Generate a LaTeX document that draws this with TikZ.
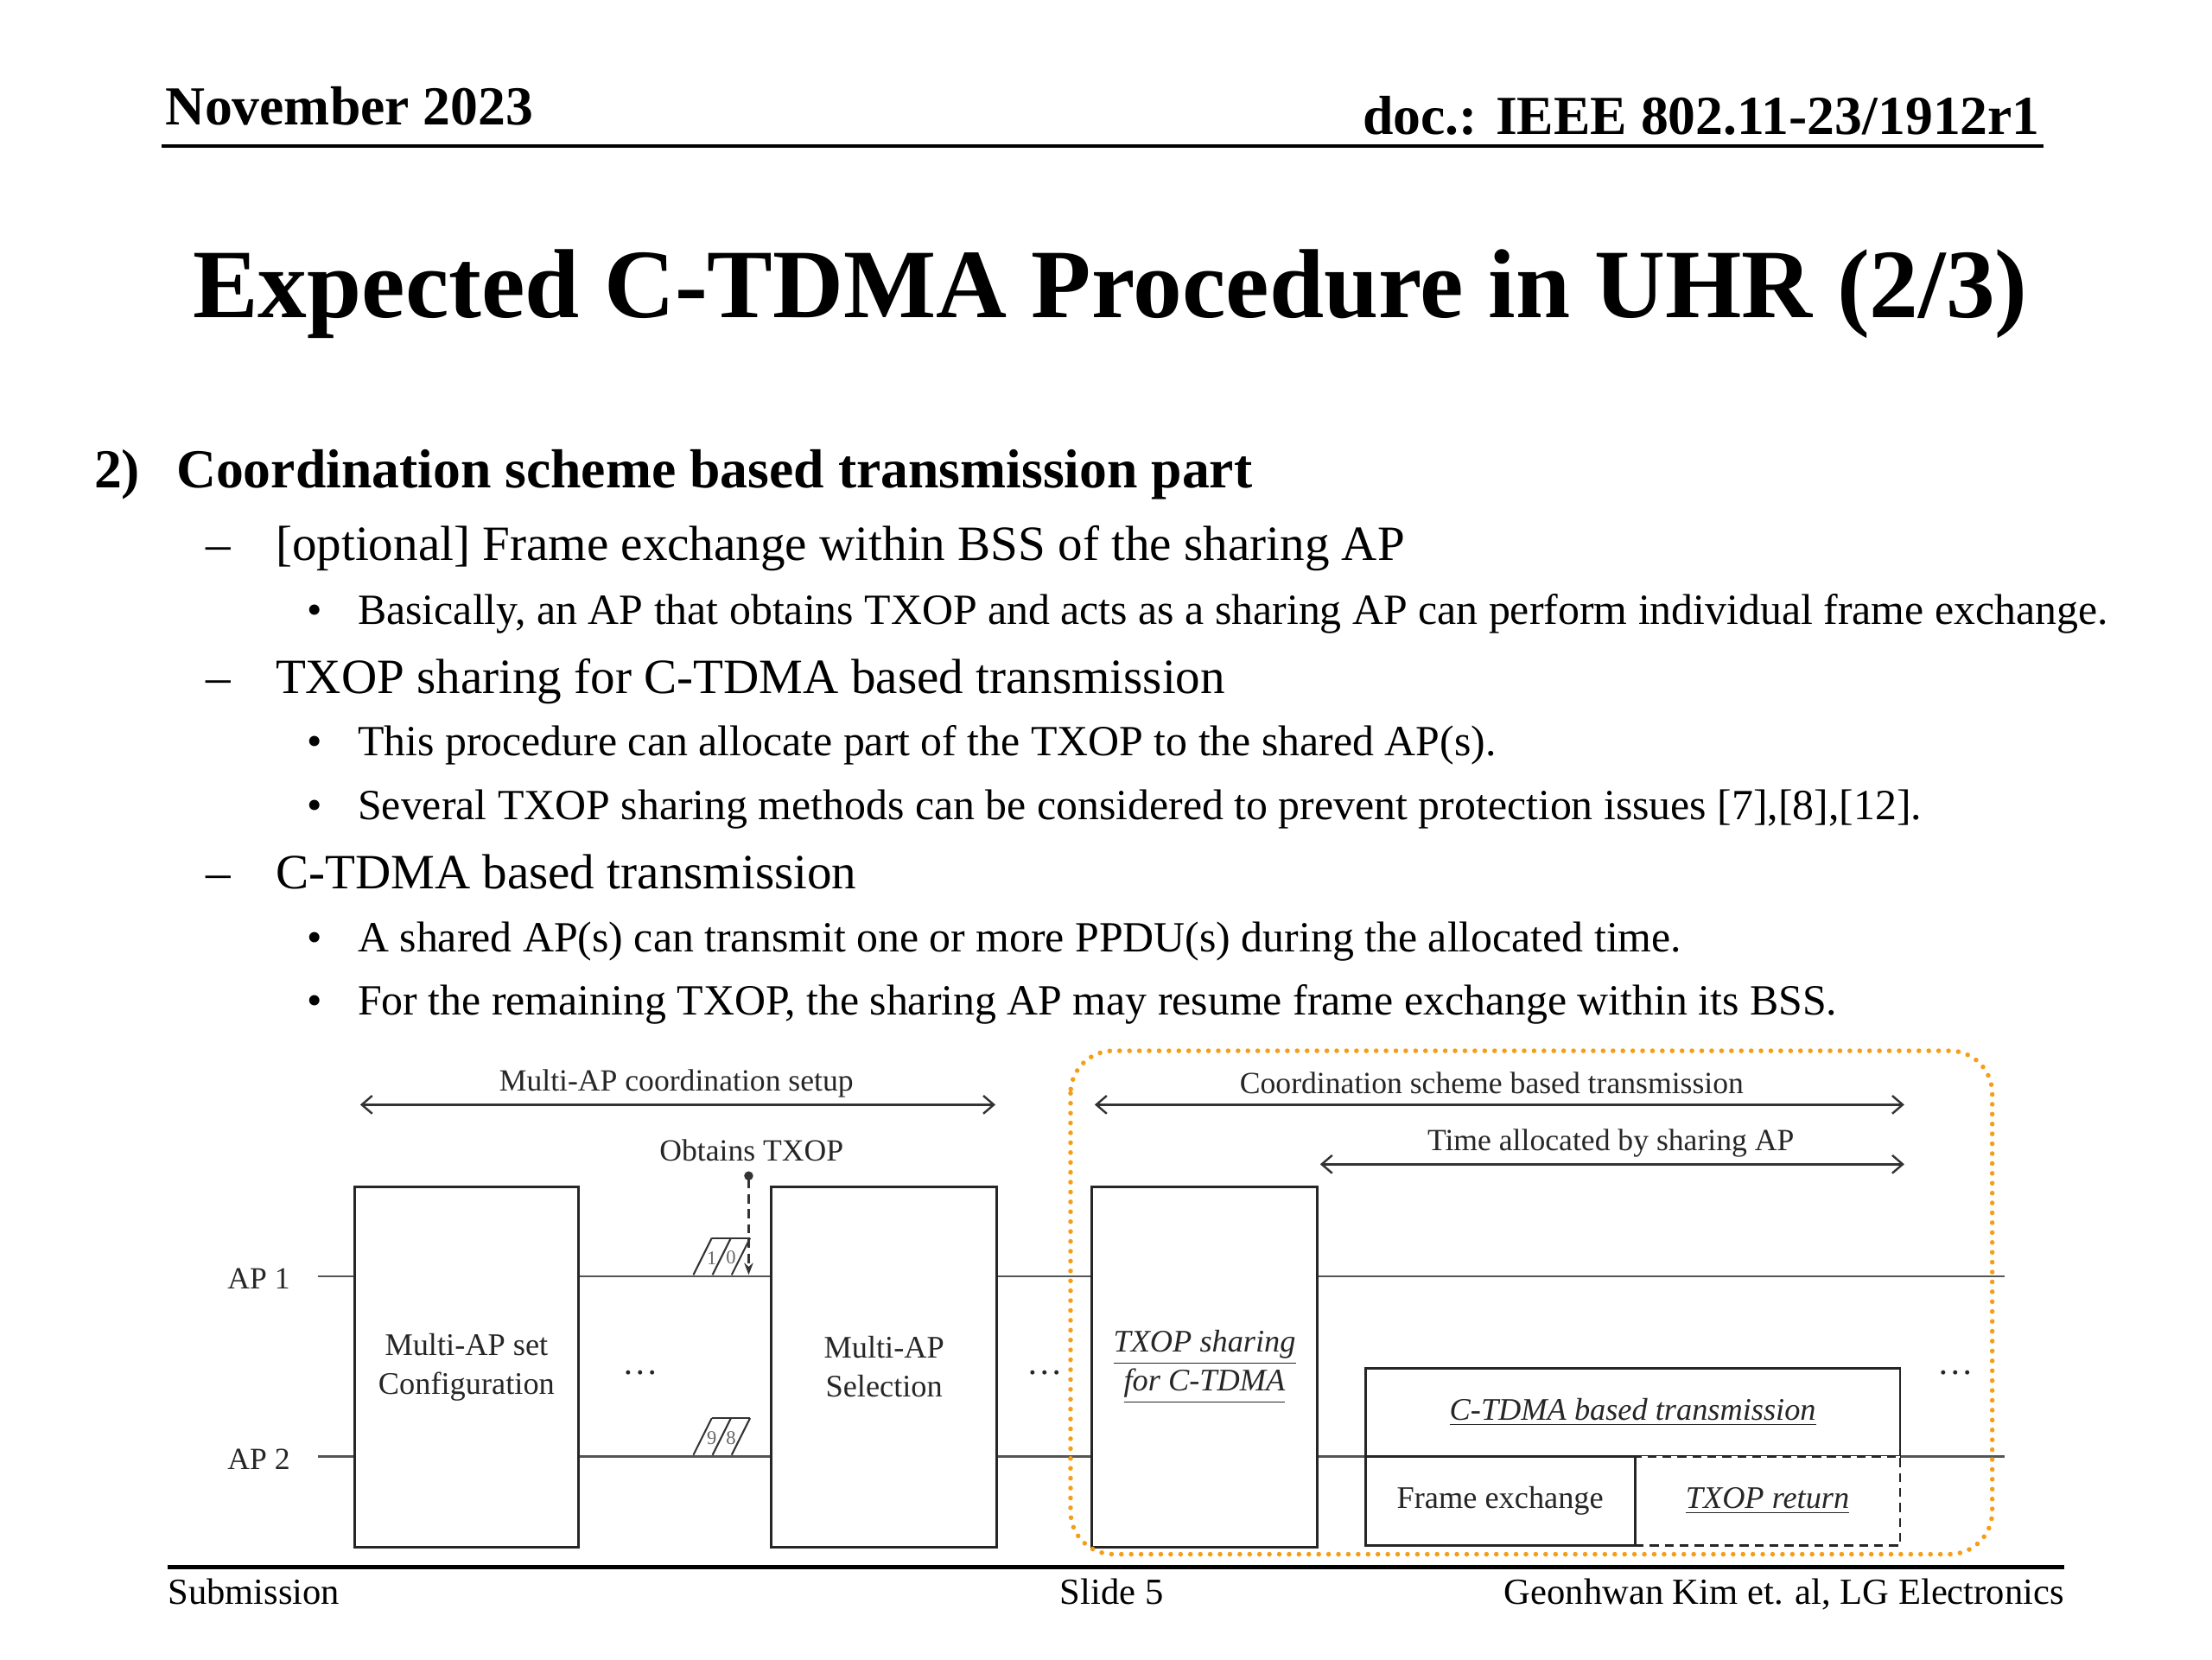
\documentclass[tikz,border=0pt]{standalone}
\usepackage{fontspec}
\setmainfont{Liberation Serif}
\usetikzlibrary{arrows.meta}

\definecolor{frameorange}{RGB}{245,158,22}
\definecolor{lanegray}{RGB}{85,85,85}

\tikzset{
  box/.style={draw=black!85, line width=0.8pt, fill=white, inner sep=0pt,
    align=center, font=\fontsize{10.5}{13}\selectfont, text=black!85},
  lane/.style={draw=lanegray, line width=0.7pt},
  span/.style={{Straight Barb[length=3.5pt,width=6pt]}-{Straight Barb[length=3.5pt,width=6pt]},
    draw=black!80, line width=0.7pt},
  lbl/.style={font=\fontsize{10.3}{13}\selectfont, text=black!85, inner sep=0pt},
  digit/.style={font=\fontsize{6.5}{7}\selectfont, text=black!60, inner sep=0pt},
  body/.style={anchor=base west, inner sep=0pt},
}

\begin{document}
\begin{tikzpicture}[x=0.1666667mm, y=-0.1666667mm]
\useasboundingbox (0,0) rectangle (1560,1170);

% header
\node[body, font=\fontsize{18.4}{22}\selectfont\bfseries] (date) at (116,88) {November 2023};
\node[anchor=base east, inner sep=0pt, font=\fontsize{18.4}{22}\selectfont\bfseries] (docid) at (1439,95) {doc.: IEEE 802.11-23/1912r1};
\draw[line width=1.3pt] (114,103) -- (1441,103);

\node[anchor=base, inner sep=0pt, font=\fontsize{32.8}{38}\selectfont\bfseries] (title) at (783,224) {Expected C-TDMA Procedure in UHR (2/3)};

% text body
\node[body, font=\fontsize{18.4}{22}\selectfont\bfseries] (num) at (66,344) {2)};
\node[body, font=\fontsize{18.4}{22}\selectfont\bfseries] (head) at (124,344) {Coordination scheme based transmission part};

\foreach \y/\txt in {395/{[optional] Frame exchange within BSS of the sharing AP},
                     489/{TXOP sharing for C-TDMA based transmission},
                     627/{C-TDMA based transmission}}{
  \node[body, font=\fontsize{16.5}{20}\selectfont] at (145,\y) {--};
  \node[body, font=\fontsize{16.5}{20}\selectfont] at (194,\y) {\txt};
}
\foreach \y/\txt in {440/{Basically, an AP that obtains TXOP and acts as a sharing AP can perform individual frame exchange.},
                     533/{This procedure can allocate part of the TXOP to the shared AP(s).},
                     578/{Several TXOP sharing methods can be considered to prevent protection issues [7],[8],[12].},
                     671/{A shared AP(s) can transmit one or more PPDU(s) during the allocated time.},
                     716/{For the remaining TXOP, the sharing AP may resume frame exchange within its BSS.}}{
  \node[body, font=\fontsize{14.4}{17}\selectfont] at (216,\y) {\textbullet};
  \node[body, font=\fontsize{14.4}{17}\selectfont] at (252,\y) {\txt};
}

% AP time lines
\coordinate (ap1L) at (224,900);
\coordinate (ap1R) at (1414,900);
\coordinate (ap2L) at (224,1027);
\coordinate (ap2R) at (1414,1027);
\draw[lane] (ap1L) -- (ap1R);
\draw[lane] (ap2L) -- (ap2R);
\node[lbl, anchor=east] (ap1) at (205,902) {AP 1};
\node[lbl, anchor=east] (ap2) at (205,1029) {AP 2};

% backoff slots
\foreach \y in {899,1026}{
  \foreach \dx in {0,13.5,27}
    \draw[black!80, line width=0.6pt] (489+\dx,\y) -- ++(13,-26);
  \draw[black!80, line width=0.6pt] (502,\y-26) -- (529,\y-26);
}
\node[digit] (s1) at (502,887) {1};
\node[digit] (s0) at (515.5,887) {0};
\node[digit] (s9) at (502,1014) {9};
\node[digit] (s8) at (515.5,1014) {8};

% phases
\node[box, minimum width=2.633cm, minimum height=4.233cm] (cfg) at (329,964) {Multi-AP set\\Configuration};
\node[box, minimum width=2.65cm, minimum height=4.233cm] (sel) at (623.5,964) {Multi-AP\\Selection};
\node[box, minimum width=2.65cm, minimum height=4.233cm] (share) at (849.5,964)
  {\underline{\textit{TXOP sharing}}\\\underline{\textit{for C-TDMA}}};
\node[box, minimum width=6.283cm, minimum height=1.033cm] (ctdma) at (1151.5,996)
  {\underline{\textit{C-TDMA based transmission}}};
\node[box, dashed, dash pattern=on 3pt off 2pt, minimum width=3.117cm, minimum height=1.05cm] (ret) at (1246.5,1058.5)
  {\underline{\textit{TXOP return}}};
\node[box, minimum width=3.167cm, minimum height=1.05cm] (fex) at (1058,1058.5) {Frame exchange};

\node[lbl, anchor=base, font=\fontsize{12}{13}\selectfont] (dots1) at (452,969) {\dots};
\node[lbl, anchor=base, font=\fontsize{12}{13}\selectfont] (dots2) at (737,969) {\dots};
\node[lbl, anchor=base, font=\fontsize{12}{13}\selectfont] (dots3) at (1379,969) {\dots};

% obtains TXOP
\node[lbl] (obtain) at (530,811) {Obtains TXOP};
\coordinate (txopdot) at (528,826);
\coordinate (txophit) at (528,899);
\draw[dashed, dash pattern=on 3pt off 2pt, line width=0.6pt, draw=black!80,
  {Circle[length=3pt]}-{Stealth[length=4pt,width=3pt]}] (txopdot) -- (txophit);

% spans
\coordinate (setupL) at (254,779);
\coordinate (setupR) at (702,779);
\coordinate (schemeL) at (772,779);
\coordinate (schemeR) at (1343,779);
\coordinate (allocL) at (931,821);
\coordinate (allocR) at (1343,821);
\draw[span] (setupL) -- (setupR);
\draw[span] (schemeL) -- (schemeR);
\draw[span] (allocL) -- (allocR);
\node[lbl] (setup) at (477,764) {Multi-AP coordination setup};
\node[lbl] (scheme) at (1052,764) {Coordination scheme based transmission};
\node[lbl] (alloc) at (1136,806) {Time allocated by sharing AP};

% coordination scheme frame
\draw[frameorange, line width=1.6pt, line cap=round, dash pattern=on 0pt off 3.3pt,
  rounded corners=0.5cm] (755,741) rectangle (1405,1096);

% footer
\draw[line width=1.3pt] (118,1105) -- (1456,1105);
\node[body, font=\fontsize{12.3}{15}\selectfont] (sub) at (118,1131) {Submission};
\node[anchor=base, inner sep=0pt, font=\fontsize{12.3}{15}\selectfont] (slide) at (784,1131) {Slide 5};
\node[anchor=base east, inner sep=0pt, font=\fontsize{12.3}{15}\selectfont] (auth) at (1456,1131) {Geonhwan Kim et. al, LG Electronics};
\end{tikzpicture}
\end{document}
